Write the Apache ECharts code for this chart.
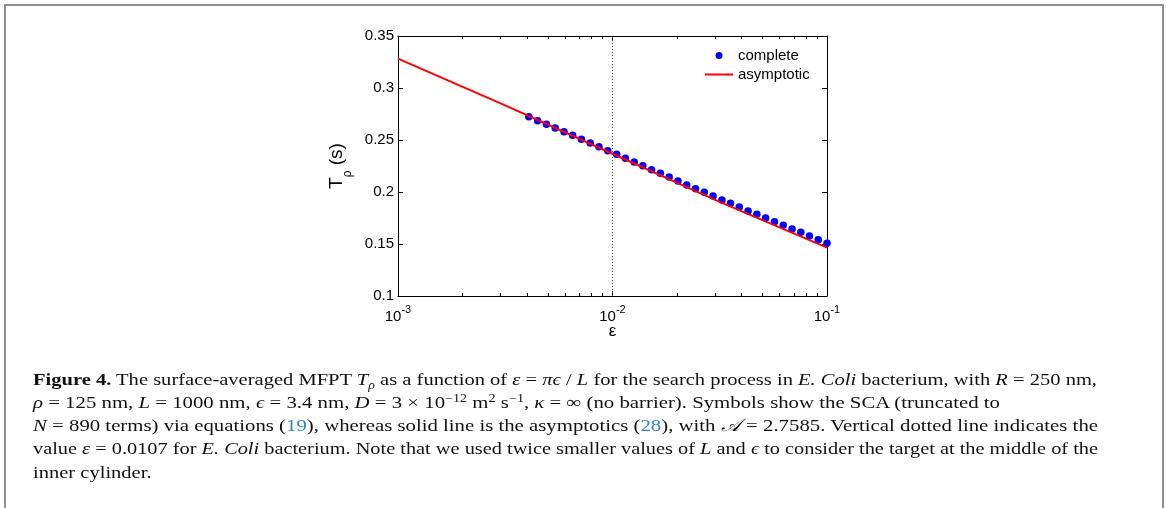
<!DOCTYPE html>
<html>
<head>
<meta charset="utf-8">
<script src="https://cdn.jsdelivr.net/npm/echarts@6/dist/echarts.min.js"></script>
<style>
  html, body { margin: 0; padding: 0; background: #fff; }
  #wrap { position: relative; width: 1166px; height: 508px; overflow: hidden; background: #fff; }
  #chart { position: absolute; left: 0; top: 0; width: 1166px; height: 508px; }
  #frame { position: absolute; left: 4px; top: 4px; width: 1156px; height: 520px;
           border-top: 2px solid #8f8f8f; border-left: 2px solid #8f8f8f; border-right: 2px solid #8f8f8f; }
  #caption { position: absolute; left: 33px; top: 368px; font-family: "Liberation Serif", "DejaVu Serif", serif;
             font-size: 17.5px; color: #111; }
  #caption .ln { height: 23.15px; line-height: 23.15px; white-space: nowrap; }
  #caption .ln > span { display: inline-block; transform-origin: 0 50%; }
  #caption sup, #caption sub { font-size: 0.68em; position: relative; vertical-align: baseline; line-height: 0; }
  #caption sup { top: -0.55em; }
  #caption sub { top: 0.3em; }
  #caption .lk { color: #2f86c4; }
</style>
</head>
<body>
<div id="wrap">
  <div id="chart"></div>
  <div id="frame"></div>
  <div id="caption">
    <div class="ln" data-w="1064"><b>Figure 4.</b> The surface-averaged MFPT <i>T</i><sub><i>ρ</i></sub> as a function of <i>ε</i> = <i>πϵ</i> / <i>L</i> for the search process in <i>E. Coli</i> bacterium, with <i>R</i> = 250 nm,</div>
    <div class="ln" data-w="967"><i>ρ</i> = 125 nm, <i>L</i> = 1000 nm, <i>ϵ</i> = 3.4 nm, <i>D</i> = 3 × 10<sup>−12</sup> m<sup>2</sup> s<sup>−1</sup>, <i>κ</i> = ∞ (no barrier). Symbols show the SCA (truncated to</div>
    <div class="ln" data-w="1065"><i>N</i> = 890 terms) via equations (<span class="lk">19</span>), whereas solid line is the asymptotics (<span class="lk">28</span>), with <i>𝒜</i> = 2.7585. Vertical dotted line indicates the</div>
    <div class="ln" data-w="1065">value <i>ε</i> = 0.0107 for <i>E. Coli</i> bacterium. Note that we used twice smaller values of <i>L</i> and <i>ϵ</i> to consider the target at the middle of the</div>
    <div class="ln">inner cylinder.</div>
  </div>
</div>
<script>
// ---- data ----
const epsComplete = [0.004074, 0.004477, 0.004920, 0.005407, 0.005942, 0.006521, 0.007161, 0.007870,
  0.008650, 0.009506, 0.01045, 0.01148, 0.01262, 0.01384, 0.01521, 0.01671, 0.01837, 0.02018,
  0.02218, 0.02438, 0.02679, 0.02944, 0.03236, 0.03548, 0.03899, 0.04285, 0.04710, 0.05176,
  0.05689, 0.06252, 0.06871, 0.07551, 0.08279, 0.09099, 0.1];
const tComplete = [0.2724, 0.2686, 0.2651, 0.2615, 0.2580, 0.2545, 0.2507, 0.2471, 0.2436, 0.2397,
  0.2362, 0.2324, 0.2288, 0.2253, 0.2214, 0.2180, 0.2144, 0.2106, 0.2067, 0.2032, 0.1997, 0.1962,
  0.1923, 0.1891, 0.1856, 0.1817, 0.1786, 0.1750, 0.1714, 0.1680, 0.1644, 0.1612, 0.1577, 0.1541, 0.1507];
const epsAsymptotic = [0.001, 0.00316, 0.01, 0.0316, 0.1];
const tAsymptotic = [0.3282, 0.2833, 0.2368, 0.1905, 0.1465];
const epsEColi = 0.0107;
const seriesNames = ['complete', 'asymptotic'];
const minorMultipliers = [2, 3, 4, 5, 6, 7, 8, 9];
const minorDecades = [0.001, 0.01];

const FONT = '"Liberation Sans", Arial, sans-serif';
const minorTickValues = [];
minorDecades.forEach(d => minorMultipliers.forEach(m => minorTickValues.push(Math.log10(d * m))));

const chart = echarts.init(document.getElementById('chart'), null, { renderer: 'canvas' });

const axisLineStyle = { show: true, lineStyle: { color: '#000', width: 1 } };
const majorTick = { show: true, inside: true, length: 5, lineStyle: { color: '#000', width: 1 } };
const minorTickStyle = { show: true, inside: true, length: 3, customValues: minorTickValues, lineStyle: { color: '#000', width: 1 } };
const legendText = { fontFamily: FONT, fontSize: 15, color: '#000' };

const option = {
  animation: false,
  backgroundColor: 'transparent',
  grid: { left: 398, top: 36, width: 429, height: 260, containLabel: false },
  legend: [
    {
      orient: 'vertical', left: 715.5, top: 48, padding: 0,
      itemWidth: 28, itemHeight: 7, textStyle: legendText,
      data: [{ name: seriesNames[0], icon: 'circle' }]
    },
    {
      orient: 'vertical', left: 705, top: 67, padding: 0,
      itemWidth: 28, itemHeight: 2, textStyle: legendText,
      data: [{ name: seriesNames[1], icon: 'rect' }]
    }
  ],
  xAxis: [
    {
      type: 'log', logBase: 10, position: 'bottom', min: 0.001, max: 0.1,
      axisLine: axisLineStyle, axisTick: majorTick, splitLine: { show: false },
      axisLabel: {
        margin: 8,
        formatter: v => '{b|10}{s|' + Math.round(Math.log10(v)) + '}',
        rich: {
          b: { fontFamily: FONT, fontSize: 15, color: '#000' },
          s: { fontFamily: FONT, fontSize: 11, color: '#000', padding: [0, 0, 14, 0] }
        }
      },
      name: 'ε', nameLocation: 'middle', nameGap: 27, nameMoveOverlap: false,
      nameTextStyle: { fontFamily: FONT, fontSize: 17, color: '#000' }
    },
    {
      type: 'log', logBase: 10, position: 'top', min: 0.001, max: 0.1,
      axisLine: axisLineStyle, axisTick: majorTick, axisLabel: { show: false }, splitLine: { show: false }
    },
    {
      type: 'value', position: 'bottom', min: -3, max: -1,
      axisLine: { show: false }, axisTick: minorTickStyle, axisLabel: { show: false }, splitLine: { show: false }
    },
    {
      type: 'value', position: 'top', min: -3, max: -1,
      axisLine: { show: false }, axisTick: minorTickStyle, axisLabel: { show: false }, splitLine: { show: false }
    }
  ],
  yAxis: [
    {
      type: 'value', position: 'left', min: 0.1, max: 0.35, interval: 0.05,
      axisLine: axisLineStyle, axisTick: majorTick, splitLine: { show: false },
      axisLabel: { margin: 4, fontFamily: FONT, fontSize: 15, color: '#000' },
      name: '{t|T}{r|ρ}{t| (s)}', nameLocation: 'middle', nameRotate: 90, nameGap: 44,
      nameTextStyle: {
        rich: {
          t: { fontFamily: FONT, fontSize: 19, color: '#000' },
          r: { fontFamily: FONT, fontSize: 12, color: '#000', padding: [22, 0, 0, 0] }
        }
      }
    },
    {
      type: 'value', position: 'right', min: 0.1, max: 0.35, interval: 0.05,
      axisLine: axisLineStyle, axisTick: majorTick, axisLabel: { show: false }, splitLine: { show: false }
    }
  ],
  series: [
    {
      name: seriesNames[0], type: 'scatter', xAxisIndex: 0, yAxisIndex: 0,
      symbol: 'circle', symbolSize: 7.5,
      itemStyle: { color: '#0000ff', opacity: 1 },
      data: epsComplete.map((x, i) => [x, tComplete[i]]),
      markLine: {
        silent: true, symbol: ['none', 'none'], label: { show: false },
        lineStyle: { type: [1, 2], color: '#555', width: 1 },
        emphasis: { disabled: true },
        data: [{ xAxis: epsEColi }]
      },
      z: 2
    },
    {
      name: seriesNames[1], type: 'line', xAxisIndex: 0, yAxisIndex: 0,
      showSymbol: false, symbol: 'none', smooth: false,
      lineStyle: { color: '#ff0000', width: 2 }, itemStyle: { color: '#ff0000' },
      data: epsAsymptotic.map((x, i) => [x, tAsymptotic[i]]),
      z: 3
    }
  ]
};
chart.setOption(option);

function fitCaption() {
  let firstScale = 1;
  document.querySelectorAll('#caption .ln').forEach((el, idx) => {
    const span = document.createElement('span');
    while (el.firstChild) span.appendChild(el.firstChild);
    el.appendChild(span);
    const natural = span.getBoundingClientRect().width;
    let s = firstScale;
    if (el.dataset.w) s = parseFloat(el.dataset.w) / natural;
    if (idx === 0) firstScale = s;
    span.style.transform = 'scaleX(' + s + ')';
  });
}
if (document.fonts && document.fonts.ready) { document.fonts.ready.then(fitCaption); } else { fitCaption(); }
</script>
</body>
</html>
